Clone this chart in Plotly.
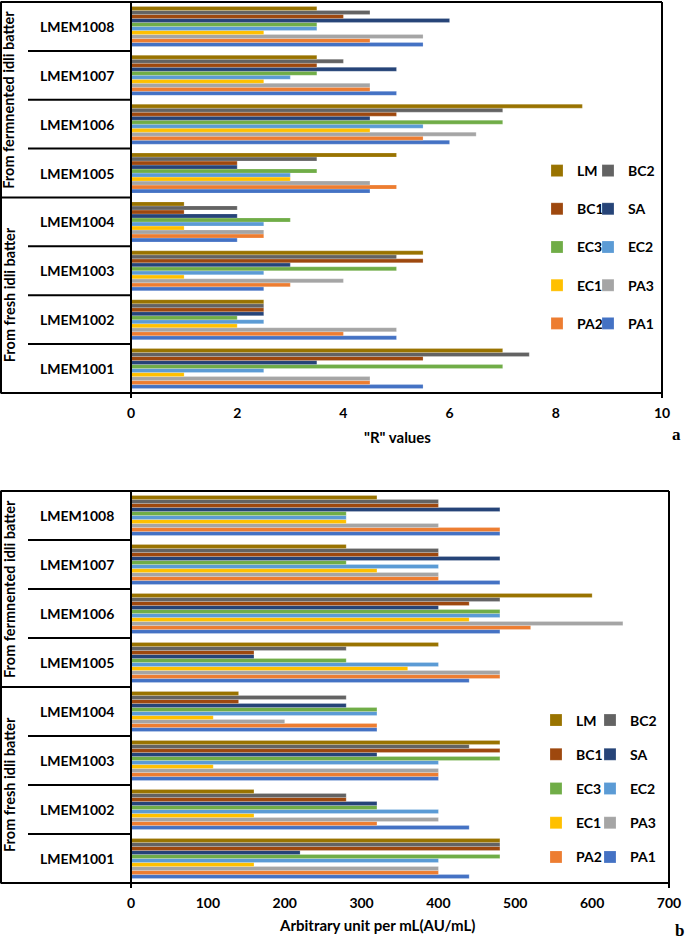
import plotly.graph_objects as go

# ---------------- data ----------------
categories = ["LMEM1001", "LMEM1002", "LMEM1003", "LMEM1004",
              "LMEM1005", "LMEM1006", "LMEM1007", "LMEM1008"]
series = ["PA1", "PA2", "PA3", "EC1", "EC2", "EC3", "SA", "BC1", "BC2", "LM"]
colors = ["#4472C4", "#ED7D31", "#A5A5A5", "#FFC000", "#5B9BD5",
          "#70AD47", "#264478", "#9E480E", "#636363", "#997300"]

# panel a: "R" values
r_PA1 = [5.5, 5.0, 2.5, 2.0, 4.5, 6.0, 5.0, 5.5]
r_PA2 = [4.5, 4.0, 3.0, 2.5, 5.0, 5.5, 4.5, 4.5]
r_PA3 = [4.5, 5.0, 4.0, 2.5, 4.5, 6.5, 4.5, 5.5]
r_EC1 = [1.0, 2.0, 1.0, 1.0, 3.0, 4.5, 2.5, 2.5]
r_EC2 = [2.5, 2.5, 2.5, 2.5, 3.0, 5.5, 3.0, 3.5]
r_EC3 = [7.0, 2.0, 5.0, 3.0, 3.5, 7.0, 3.5, 3.5]
r_SA = [3.5, 2.5, 3.0, 2.0, 2.0, 4.5, 5.0, 6.0]
r_BC1 = [5.5, 2.5, 5.5, 1.0, 2.0, 5.0, 3.5, 4.0]
r_BC2 = [7.5, 2.5, 5.0, 2.0, 3.5, 7.0, 4.0, 4.5]
r_LM = [7.0, 2.5, 5.5, 1.0, 5.0, 8.5, 3.5, 3.5]

# panel b: arbitrary unit per mL
au_PA1 = [440, 440, 400, 320, 440, 480, 480, 480]
au_PA2 = [400, 320, 400, 320, 480, 520, 400, 480]
au_PA3 = [400, 400, 400, 200, 480, 640, 400, 400]
au_EC1 = [160, 160, 107, 107, 360, 440, 320, 280]
au_EC2 = [400, 400, 400, 320, 400, 480, 400, 280]
au_EC3 = [480, 320, 480, 320, 280, 480, 280, 280]
au_SA = [220, 320, 320, 280, 160, 400, 480, 480]
au_BC1 = [480, 280, 480, 140, 160, 440, 400, 400]
au_BC2 = [480, 280, 440, 280, 280, 480, 400, 400]
au_LM = [480, 160, 480, 140, 400, 600, 280, 320]

r_values = [r_PA1, r_PA2, r_PA3, r_EC1, r_EC2, r_EC3, r_SA, r_BC1, r_BC2, r_LM]
au_values = [au_PA1, au_PA2, au_PA3, au_EC1, au_EC2, au_EC3, au_SA, au_BC1, au_BC2, au_LM]

group_labels = ["From fresh idli batter", "From fermnented idli batter"]
ticks_a = [0, 2, 4, 6, 8, 10]
ticks_b = [0, 100, 200, 300, 400, 500, 600, 700]

# ---------------- layout geometry (pixels) ----------------
W, H = 685, 943
ML, MR, MT, MB = 131, 16, 2, 60
PW = W - ML - MR
PH = H - MT - MB


def px_x(p):
    return (p - ML) / PW


def px_y(p):
    return (H - MB - p) / PH


A_TOP, A_BOT, A_RIGHT = 2, 393, 662
B_TOP, B_BOT, B_RIGHT = 491, 883, 669

FONT = "Lato"

fig = go.Figure()

# left column of legend entries (top->bottom): LM, BC1, EC3, EC1, PA2
left_col = {"LM", "BC1", "EC3", "EC1", "PA2"}
n_series = len(series)

for i, name in enumerate(series):
    fig.add_trace(go.Bar(
        y=categories, x=r_values[i], orientation="h", name=name,
        marker=dict(color=colors[i], line=dict(color="rgba(255,255,255,0.5)", width=0.4)),
        xaxis="x", yaxis="y", legendgroup="a" + name, legendrank=n_series - i,
        legend="legend" if name in left_col else "legend2",
    ))
for i, name in enumerate(series):
    fig.add_trace(go.Bar(
        y=categories, x=au_values[i], orientation="h", name=name,
        marker=dict(color=colors[i], line=dict(color="rgba(255,255,255,0.5)", width=0.4)),
        xaxis="x2", yaxis="y2", legendgroup="b" + name, legendrank=n_series - i,
        legend="legend3" if name in left_col else "legend4",
    ))

tickfont = dict(family=FONT, size=14, color="black", weight="bold")
axis_common = dict(showgrid=False, zeroline=False, showline=False, ticks="",
                   tickfont=tickfont, ticklabelstandoff=10, fixedrange=True)

shapes = []


def hline(x0, x1, y, yref="paper", w=2):
    shapes.append(dict(type="line", xref="paper", yref=yref, x0=x0, x1=x1,
                       y0=y, y1=y, line=dict(color="black", width=w)))


def vline(x, y0, y1, w=2):
    shapes.append(dict(type="line", xref="paper", yref="paper", x0=x, x1=x,
                       y0=y0, y1=y1, line=dict(color="black", width=w)))


annotations = []

for (top, bot, right, yref, letter, title, title_x, title_y, letter_x, letter_y) in [
        (A_TOP, A_BOT, A_RIGHT, "y", "a", '"R" values', 397, 437, 676, 434),
        (B_TOP, B_BOT, B_RIGHT, "y2", "b", "Arbitrary unit per mL(AU/mL)", 377, 925, 679, 930)]:
    # outer frame
    hline(px_x(0.5), px_x(right), px_y(top))
    hline(px_x(0.5), px_x(right), px_y(bot))
    vline(px_x(1), px_y(top), px_y(bot))
    vline(px_x(right), px_y(top), px_y(bot + 5))
    vline(px_x(ML), px_y(top), px_y(bot + 5))
    # category separators
    for k in range(len(categories) - 1):
        if k == 3:
            hline(px_x(0.5), px_x(ML), k + 0.5, yref=yref)
        else:
            hline(px_x(28), px_x(ML), k + 0.5, yref=yref)
    # category labels
    for c in categories:
        annotations.append(dict(text=c, x=px_x(77), y=c, xref="paper", yref=yref,
                                showarrow=False, xanchor="center", yanchor="middle",
                                font=dict(family=FONT, size=14, color="black", weight="bold")))
    # group labels
    for g, yc in zip(group_labels, [1.5, 5.5]):
        annotations.append(dict(text=g, x=px_x(9), y=yc, xref="paper", yref=yref,
                                showarrow=False, textangle=-90, xanchor="center", yanchor="middle",
                                font=dict(family=FONT, size=14.5, color="black", weight="bold")))
    # axis title
    annotations.append(dict(text=title, x=px_x(title_x), y=px_y(title_y), xref="paper", yref="paper",
                            showarrow=False, xanchor="center", yanchor="middle",
                            font=dict(family=FONT, size=15, color="black", weight="bold")))
    # panel letter
    annotations.append(dict(text=letter, x=px_x(letter_x), y=px_y(letter_y), xref="paper", yref="paper",
                            showarrow=False, xanchor="center", yanchor="middle",
                            font=dict(family="Liberation Serif", size=17, color="black", weight="bold")))

legend_common = dict(bgcolor="rgba(0,0,0,0)", borderwidth=0, orientation="v",
                     traceorder="grouped", xanchor="left", yanchor="top",
                     font=dict(family=FONT, size=14, color="black", weight="bold"),
                     itemclick=False, itemdoubleclick=False)

fig.update_layout(
    width=W, height=H,
    margin=dict(l=ML, r=MR, t=MT, b=MB, pad=0),
    paper_bgcolor="white", plot_bgcolor="white",
    barmode="group", bargap=0.18, bargroupgap=0,
    xaxis=dict(domain=[0, px_x(A_RIGHT)], range=[0, 10], tickvals=ticks_a, anchor="y", **axis_common),
    yaxis=dict(domain=[px_y(A_BOT), px_y(A_TOP)], categoryorder="array", categoryarray=categories,
               range=[-0.5, len(categories) - 0.5], showticklabels=False, anchor="x",
               showgrid=False, zeroline=False, showline=False, fixedrange=True),
    xaxis2=dict(domain=[0, px_x(B_RIGHT)], range=[0, 700], tickvals=ticks_b, anchor="y2", **axis_common),
    yaxis2=dict(domain=[px_y(B_BOT), px_y(B_TOP)], categoryorder="array", categoryarray=categories,
                range=[-0.5, len(categories) - 0.5], showticklabels=False, anchor="x2",
                showgrid=False, zeroline=False, showline=False, fixedrange=True),
    legend=dict(x=px_x(537), y=px_y(155), tracegroupgap=17, **legend_common),
    legend2=dict(x=px_x(588), y=px_y(155), tracegroupgap=17, **legend_common),
    legend3=dict(x=px_x(536), y=px_y(704.5), tracegroupgap=13, **legend_common),
    legend4=dict(x=px_x(590), y=px_y(704.5), tracegroupgap=13, **legend_common),
    shapes=shapes,
    annotations=annotations,
    showlegend=True,
)

fig.write_html("out.html", config={"displayModeBar": False},
               post_script="document.body.style.margin='0';")
